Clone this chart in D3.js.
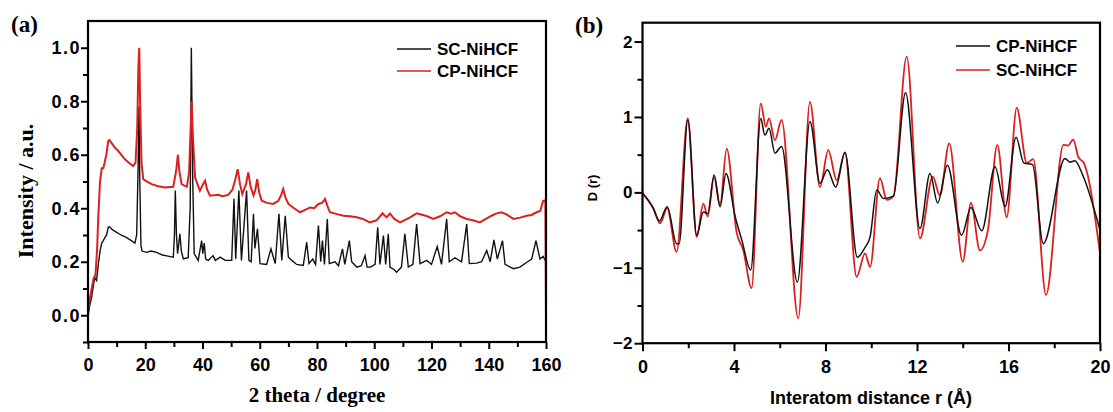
<!DOCTYPE html>
<html>
<head>
<meta charset="utf-8">
<script src="https://cdn.jsdelivr.net/npm/d3@7"></script>
<style>
  body { margin: 0; background: #fff; }
  .tick text { font-family: "Liberation Sans", Arial, sans-serif; font-weight: bold; fill: #000; }
</style>
</head>
<body>
<div id="chart"></div>
<script>
  var svgWidth = 1113;
  var svgHeight = 412;

  // (a) XRD patterns, [2theta, intensity]
  var scXrd = [[0,0.0],[0.5,0.03],[1.3,0.07],[2.0,0.12],[2.4,0.14],[3.0,0.13],[3.6,0.19],[4.2,0.24],[4.8,0.27],[5.4,0.28],[5.9,0.29],[6.5,0.3],[7.1,0.33],[7.6,0.33],[8.5,0.32],[10,0.31],[11.5,0.3],[13.5,0.29],[15,0.28],[16.4,0.27],[17.0,0.3],[17.5,0.55],[17.8,0.78],[18.1,0.5],[18.5,0.26],[18.9,0.24],[20.5,0.235],[22,0.24],[24,0.235],[26,0.225],[27.5,0.222],[29.8,0.217],[30.2,0.3],[30.5,0.466],[30.9,0.3],[31.3,0.23],[32.1,0.304],[32.6,0.24],[33.3,0.211],[35,0.215],[35.7,0.4],[36.1,1.0],[36.6,0.5],[37.1,0.23],[38.5,0.205],[39.7,0.279],[40.1,0.23],[40.6,0.27],[41.1,0.21],[42,0.205],[43.7,0.223],[44.5,0.205],[46.2,0.217],[47.9,0.205],[50.2,0.205],[51,0.435],[51.6,0.21],[52.7,0.466],[53.6,0.205],[55.4,0.466],[56.2,0.205],[57,0.2],[57.8,0.379],[58.3,0.25],[59.2,0.323],[60.1,0.193],[62.4,0.19],[63.9,0.248],[65.4,0.193],[66.7,0.379],[67.7,0.205],[68.9,0.372],[70,0.217],[71.2,0.205],[72.9,0.19],[75.2,0.186],[76.4,0.273],[77.2,0.193],[78.5,0.21],[79.5,0.19],[80.5,0.335],[81.3,0.2],[81.9,0.279],[82.6,0.19],[83.6,0.36],[84.3,0.193],[86.3,0.2],[87.5,0.185],[88.9,0.248],[89.7,0.19],[91.3,0.279],[92.1,0.2],[93.9,0.18],[95.5,0.185],[96.8,0.223],[97.5,0.18],[98.7,0.18],[100.3,0.19],[101.2,0.329],[102,0.19],[103.2,0.298],[104,0.19],[104.9,0.304],[105.5,0.18],[107,0.17],[107.8,0.161],[109.5,0.18],[110.7,0.304],[111.9,0.18],[113.5,0.19],[114.8,0.341],[116,0.193],[118.3,0.205],[120,0.19],[122,0.257],[123.5,0.19],[125.3,0.36],[126.2,0.2],[128.2,0.215],[130.5,0.2],[132.3,0.341],[133.2,0.193],[135.8,0.195],[137.5,0.2],[139.3,0.242],[140.5,0.2],[141.8,0.282],[143,0.21],[144.8,0.279],[145.7,0.19],[148.6,0.174],[150.9,0.18],[153.3,0.198],[155,0.21],[156.5,0.279],[157.9,0.21],[159,0.22],[160,0.2]];

  var cpXrd = [[0,0.0],[0.3,0.04],[1.3,0.1],[2.0,0.14],[2.6,0.15],[3.2,0.25],[3.6,0.37],[4.2,0.5],[4.8,0.55],[5.35,0.55],[5.8,0.57],[6.4,0.6],[7.1,0.652],[7.5,0.655],[8.5,0.64],[9.5,0.625],[10.6,0.614],[11.8,0.598],[12.9,0.583],[14.3,0.57],[15.8,0.558],[16.6,0.57],[17.2,0.7],[17.6,0.93],[17.9,1.0],[18.2,0.8],[18.7,0.57],[19.3,0.509],[20.5,0.5],[22.2,0.49],[24.5,0.482],[26.9,0.478],[29.8,0.48],[30.8,0.54],[31.4,0.60],[31.9,0.54],[32.7,0.49],[34.5,0.48],[35.3,0.53],[35.8,0.68],[36.2,0.80],[36.6,0.68],[37.4,0.515],[39.1,0.466],[40.2,0.49],[40.9,0.503],[41.6,0.47],[42.6,0.447],[45.5,0.45],[47,0.445],[49,0.45],[50.5,0.47],[51.5,0.51],[52.3,0.546],[53.1,0.49],[53.9,0.453],[55.2,0.49],[56,0.534],[56.8,0.48],[57.8,0.448],[58.5,0.47],[59.1,0.509],[59.8,0.46],[60.7,0.428],[62.5,0.42],[64.7,0.416],[66.5,0.428],[67.5,0.45],[68.2,0.472],[69,0.44],[70,0.416],[72,0.4],[74.1,0.385],[76,0.395],[77.6,0.403],[79,0.4],[80.5,0.416],[81.8,0.42],[82.8,0.435],[83.6,0.41],[84.5,0.385],[87,0.378],[89.2,0.372],[91.5,0.37],[93.9,0.366],[96,0.36],[98.5,0.347],[100.8,0.355],[102.9,0.381],[104.3,0.366],[105.5,0.38],[107,0.36],[109,0.347],[110.5,0.355],[112.5,0.366],[114.8,0.381],[117,0.375],[118.5,0.37],[120.6,0.36],[123,0.37],[125.3,0.385],[126.8,0.38],[128.2,0.385],[130,0.37],[132.3,0.36],[134.5,0.355],[136.9,0.347],[139,0.36],[141,0.372],[142.5,0.38],[144.5,0.385],[146.5,0.375],[148.6,0.36],[151,0.365],[153.3,0.372],[155,0.375],[156.7,0.385],[158,0.39],[159,0.428],[159.8,0.43],[160,0.0]];

  // (b) reduced PDF, [r, D(r)]
  var cpPdf = [[0,-0.01],[0.47,-0.21],[0.74,-0.38],[1.08,-0.19],[1.49,-0.68],[1.6,-0.68],[1.98,0.96],[2.37,-0.57],[2.66,-0.26],[2.85,-0.28],[3.13,0.23],[3.39,-0.19],[3.65,0.25],[4.05,-0.32],[4.34,-0.63],[4.73,-1.03],[5.17,0.98],[5.35,0.76],[5.53,0.85],[5.79,0.52],[6.08,0.61],[6.77,-1.19],[7.32,0.94],[7.76,0.12],[8.08,0.3],[8.45,0.07],[8.85,0.53],[9.39,-0.86],[9.73,-0.73],[9.95,-0.59],[10.24,0.03],[10.53,-0.08],[10.97,-0.05],[11.5,1.32],[12.13,-0.48],[12.57,0.25],[12.9,-0.14],[13.33,0.36],[13.95,-0.57],[14.36,-0.2],[14.83,-0.51],[15.41,0.34],[15.85,-0.19],[16.33,0.73],[16.67,0.39],[17.05,0.37],[17.52,-0.68],[18.47,0.45],[18.68,0.4],[18.9,0.42],[19.27,0.21],[20,-0.5]];

  var scPdf = [[0,-0.01],[0.47,-0.21],[0.77,-0.41],[1.08,-0.21],[1.49,-0.79],[1.98,0.98],[2.37,-0.59],[2.66,-0.15],[2.85,-0.32],[3.13,0.21],[3.39,-0.17],[3.68,0.58],[4.12,-0.54],[4.4,-0.76],[4.77,-1.27],[5.17,1.18],[5.39,0.87],[5.53,0.98],[5.79,0.69],[6.08,0.96],[6.81,-1.67],[7.32,1.2],[7.76,0.07],[8.12,0.56],[8.49,0.16],[8.85,0.53],[9.36,-1.12],[9.73,-0.81],[9.95,-0.99],[10.38,0.19],[10.68,-0.1],[10.97,-0.05],[11.55,1.8],[12.13,-0.61],[12.69,0.21],[13.0,-0.04],[13.41,0.65],[14.0,-0.92],[14.36,-0.14],[14.75,-0.77],[15.1,-0.5],[15.51,0.63],[15.92,-0.33],[16.36,1.12],[16.8,0.39],[17.08,0.44],[17.64,-1.36],[18.4,0.63],[18.6,0.62],[18.83,0.7],[19.05,0.47],[19.31,0.38],[20,-0.8]];

  var xrdXTicks = [0, 20, 40, 60, 80, 100, 120, 140, 160];
  var xrdYTicks = [0.0, 0.2, 0.4, 0.6, 0.8, 1.0];
  var pdfXTicks = [0, 4, 8, 12, 16, 20];
  var pdfYTicks = [-2, -1, 0, 1, 2];

  var red = "#dc1f1f";
  var black = "#111";

  var svg = d3.select("#chart")
    .append("svg")
    .attr("width", svgWidth)
    .attr("height", svgHeight);

  function drawAxes(g, x, y, w, h, opt) {
    // minor ticks first
    g.append("g")
      .attr("transform", `translate(0, ${h})`)
      .call(d3.axisBottom(x).tickValues(opt.xMinor).tickSize(opt.minor).tickFormat(""));
    g.append("g")
      .call(d3.axisLeft(y).tickValues(opt.yMinor).tickSize(opt.minor).tickFormat(""));

    var xAxis = g.append("g")
      .attr("transform", `translate(0, ${h})`)
      .call(d3.axisBottom(x).tickValues(opt.xTicks).tickSize(opt.major).tickPadding(opt.xPad).tickFormat(opt.xFmt));
    xAxis.selectAll("text").style("font-size", opt.xFont + "px");

    var yAxis = g.append("g")
      .call(d3.axisLeft(y).tickValues(opt.yTicks).tickSize(opt.major).tickPadding(opt.yPad).tickFormat(opt.yFmt));
    yAxis.selectAll("text")
      .style("font-size", opt.yFont + "px")
      .style("letter-spacing", (opt.ySpacing || 0) + "px");

    g.selectAll(".domain").remove();
    g.selectAll(".tick line").attr("stroke", "#000").attr("stroke-width", 2);

    g.append("rect")
      .attr("width", w)
      .attr("height", h)
      .attr("fill", "none")
      .attr("stroke", "#000")
      .attr("stroke-width", 2.2);
  }

  function legend(g, x0, y0, gap, items) {
    items.forEach(function(it, i) {
      g.append("line")
        .attr("x1", x0).attr("x2", x0 + 34)
        .attr("y1", y0 + i * gap).attr("y2", y0 + i * gap)
        .attr("stroke", it.color).attr("stroke-width", 1.6);
      g.append("text")
        .attr("x", x0 + 40).attr("y", y0 + i * gap)
        .attr("dy", "0.35em")
        .style("font-family", "Liberation Sans, Arial, sans-serif")
        .style("font-weight", "bold")
        .style("font-size", "17px")
        .text(it.name);
    });
  }

  // ---------- panel (a) ----------
  var aLeft = 88, aTop = 21, aW = 458, aH = 321;
  var gA = svg.append("g").attr("transform", `translate(${aLeft}, ${aTop})`);

  var xA = d3.scaleLinear().domain([0, 160]).range([0, aW]);
  var yA = d3.scaleLinear().domain([-0.1, 1.1]).range([aH, 0]);

  var lineA = d3.line().x(d => xA(d[0])).y(d => yA(d[1]));

  gA.append("path").datum(scXrd)
    .attr("d", lineA).attr("fill", "none").attr("stroke", black).attr("stroke-width", 1.4);
  gA.append("path").datum(cpXrd)
    .attr("d", lineA).attr("fill", "none").attr("stroke", red).attr("stroke-width", 2);

  drawAxes(gA, xA, yA, aW, aH, {
    xTicks: xrdXTicks, xMinor: d3.range(10, 160, 20),
    yTicks: xrdYTicks, yMinor: [-0.1, 0.1, 0.3, 0.5, 0.7, 0.9],
    major: 7, minor: 5, xPad: 9, yPad: 0,
    xFont: 18, yFont: 18, ySpacing: 1.5,
    xFmt: d3.format("d"), yFmt: d3.format(".1f")
  });

  legend(gA, 397 - aLeft, 49 - aTop, 22, [
    {name: "SC-NiHCF", color: black},
    {name: "CP-NiHCF", color: red}
  ]);

  svg.append("text")
    .attr("transform", "translate(33, 191) rotate(-90)")
    .attr("text-anchor", "middle")
    .style("font-family", "Liberation Serif, Times New Roman, serif")
    .style("font-weight", "bold")
    .style("font-size", "22px")
    .text("Intensity / a.u.");

  svg.append("text")
    .attr("x", 317).attr("y", 402)
    .attr("text-anchor", "middle")
    .style("font-family", "Liberation Serif, Times New Roman, serif")
    .style("font-weight", "bold")
    .style("font-size", "21px")
    .text("2 theta / degree");

  svg.append("text")
    .attr("x", 11).attr("y", 32)
    .style("font-family", "Liberation Serif, Times New Roman, serif")
    .style("font-weight", "bold")
    .style("font-size", "23px")
    .text("(a)");

  // ---------- panel (b) ----------
  var bLeft = 642.5, bTop = 22.7, bW = 457.5, bH = 320.5;
  var gB = svg.append("g").attr("transform", `translate(${bLeft}, ${bTop})`);

  var xB = d3.scaleLinear().domain([0, 20]).range([0, bW]);
  var yB = d3.scaleLinear().domain([-2, 2.25]).range([bH, 0]);

  var lineB = d3.line().curve(d3.curveMonotoneX).x(d => xB(d[0])).y(d => yB(d[1]));

  gB.append("path").datum(scPdf)
    .attr("d", lineB).attr("fill", "none").attr("stroke", red).attr("stroke-width", 1.8);
  gB.append("path").datum(cpPdf)
    .attr("d", lineB).attr("fill", "none").attr("stroke", black).attr("stroke-width", 1.5);

  drawAxes(gB, xB, yB, bW, bH, {
    xTicks: pdfXTicks, xMinor: [2, 6, 10, 14, 18],
    yTicks: pdfYTicks, yMinor: [-1.5, -0.5, 0.5, 1.5],
    major: 8, minor: 5, xPad: 9, yPad: 2,
    xFont: 18, yFont: 17,
    xFmt: d3.format("d"), yFmt: d3.format("d")
  });

  legend(gB, 956 - bLeft, 46 - bTop, 24, [
    {name: "CP-NiHCF", color: black},
    {name: "SC-NiHCF", color: red}
  ]);

  svg.append("text")
    .attr("transform", "translate(597, 188) rotate(-90)")
    .attr("text-anchor", "middle")
    .style("font-family", "Liberation Sans, Arial, sans-serif")
    .style("font-weight", "bold")
    .style("font-size", "13px")
    .text("D (r)");

  svg.append("text")
    .attr("x", 871).attr("y", 404)
    .attr("text-anchor", "middle")
    .style("font-family", "Liberation Sans, Arial, sans-serif")
    .style("font-weight", "bold")
    .style("font-size", "18px")
    .text("Interatom distance r (Å)");

  svg.append("text")
    .attr("x", 575).attr("y", 33)
    .style("font-family", "Liberation Serif, Times New Roman, serif")
    .style("font-weight", "bold")
    .style("font-size", "23px")
    .text("(b)");
</script>
</body>
</html>
